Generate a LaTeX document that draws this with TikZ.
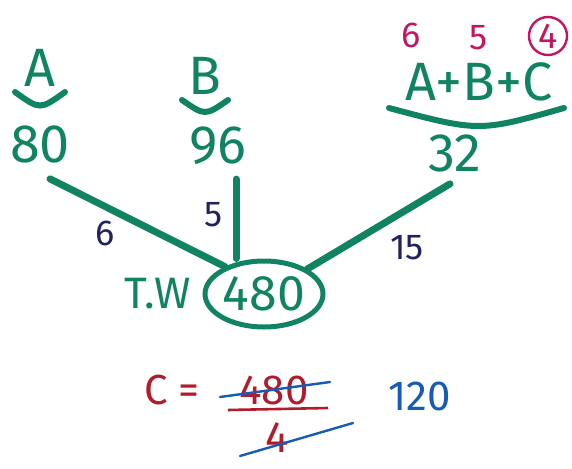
\documentclass[tikz,border=0pt]{standalone}
\usepackage{fontspec}
\setmainfont{Fira Sans}
\usetikzlibrary{positioning,shapes.geometric}
\definecolor{penGreen}{RGB}{16,132,98}
\definecolor{penPink}{RGB}{196,22,96}
\definecolor{penRed}{RGB}{176,28,44}
\definecolor{penBlue}{RGB}{22,92,182}
\definecolor{penNavy}{RGB}{34,34,96}

\begin{document}
\begin{tikzpicture}[x=1pt,y=-1pt,
  hand/.style={inner sep=0pt,text=penGreen,font=\fontsize{54}{54}\selectfont},
  share/.style={inner sep=0pt,text=penPink,font=\fontsize{36}{36}\selectfont},
  ratio/.style={inner sep=0pt,text=penNavy,font=\fontsize{36}{36}\selectfont},
  edge/.style={penGreen,line width=7pt,line cap=round},
  uline/.style={penGreen,line width=6pt,line cap=round},
  strike/.style={penBlue,line width=2.4pt,line cap=round}]
\useasboundingbox (0,0) rectangle (572,468);

% partners and their days
\node[hand] (nA) at (40,68) {A};
\node[hand] (nB) at (205,76) {B};
\node[hand] (nABC) at (479,82) {A+B+C};
\node[hand] (d80) at (40,144) {80};
\node[hand] (d96) at (218,146) {96};
\node[hand] (d32) at (455,153) {32};
\draw[uline] ([xshift=-25pt,yshift=-24pt]nA.center) .. controls ([yshift=-42pt]nA.center) .. ([xshift=25pt,yshift=-24pt]nA.center);
\draw[uline] ([xshift=-23pt,yshift=-24pt]nB.center) .. controls ([yshift=-40pt]nB.center) .. ([xshift=23pt,yshift=-24pt]nB.center);
\draw[uline] ([xshift=-90pt,yshift=-26pt]nABC.center) .. controls ([yshift=-50pt]nABC.center) .. ([xshift=85pt,yshift=-26pt]nABC.center);

% efficiencies
\node[share] (eA) at (411,35) {6};
\node[share] (eB) at (479,38) {5};
\node[share,draw=penPink,line width=2.4pt,circle,inner sep=1pt,minimum size=38pt] (eC) at (548,36) {4};

% total work
\node[hand,draw=penGreen,line width=5pt,ellipse,minimum width=118pt,minimum height=66pt,font=\fontsize{50}{50}\selectfont] (tw) at (264,294) {480};
\node[hand,font=\fontsize{44}{44}\selectfont,left=12pt of tw] (twl) {T.W};

\coordinate (bTop) at ([xshift=18pt,yshift=-14pt]d96.south);
\draw[edge] ([xshift=10pt,yshift=-16pt]d80.south) -- node[ratio,pos=0.4,below left=4pt and 2pt] (rA) {6} (tw.145);
\draw[edge] (bTop) -- node[ratio,pos=0.45,left=10pt] (rB) {5} (bTop |- tw.north);
\draw[edge] ([xshift=-5pt,yshift=-12pt]d32.south) -- node[ratio,pos=0.5,below right=6pt and 8pt] (rC) {15} (tw.30);

% days of C
\node[inner sep=0pt,text=penRed,font=\fontsize{42}{42}\selectfont] (cEq) at (172,390) {C =};
\node[inner sep=0pt,text=penRed,font=\fontsize{42}{42}\selectfont] (num) at (274,390) {480};
\node[inner sep=0pt,text=penRed,font=\fontsize{44}{44}\selectfont] (den) at (277,438) {4};
\draw[penRed,line width=2.6pt] ([xshift=-46pt,yshift=-20pt]num.center) -- ([xshift=54pt,yshift=-18pt]num.center);
\draw[strike] ([xshift=-54pt,yshift=-7pt]num.center) -- ([xshift=56pt,yshift=8pt]num.center);
\draw[strike] ([xshift=-37pt,yshift=-18pt]den.center) -- ([xshift=76pt,yshift=15pt]den.center);
\node[inner sep=0pt,text=penBlue,font=\fontsize{42}{42}\selectfont] (res) at (420,396) {120};
\end{tikzpicture}
\end{document}
